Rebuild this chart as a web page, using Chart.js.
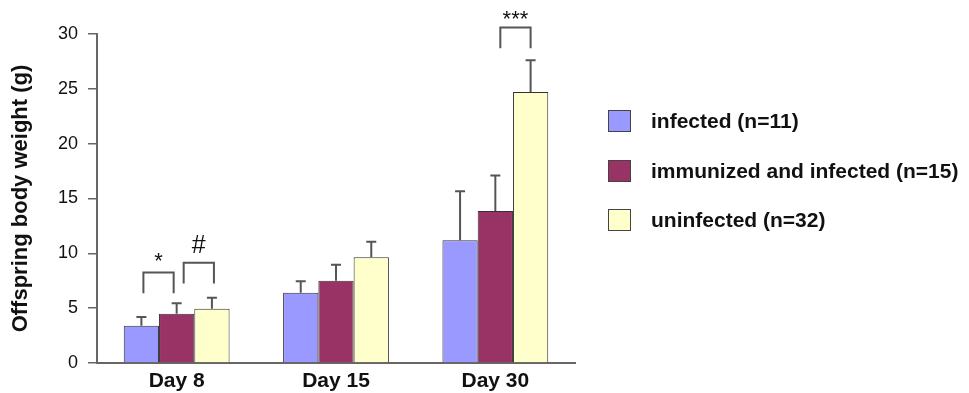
<!DOCTYPE html>
<html>
<head>
<meta charset="utf-8">
<script src="https://cdn.jsdelivr.net/npm/chart.js@4/dist/chart.umd.min.js"></script>
<style>
  html, body { margin: 0; padding: 0; background: #fff; }
  #wrap { position: relative; width: 969px; height: 393px; }
  #legend { position: absolute; left: 608px; top: 110px; font: bold 21px "Liberation Sans", Arial, sans-serif; color: #111; }
  .item { height: 49.5px; display: flex; align-items: flex-start; }
  .box { width: 21px; height: 20px; border: 1px solid #444; margin-right: 20px; }
  .item span { line-height: 21px; }
</style>
</head>
<body>
<div id="wrap">
  <canvas id="chart" width="969" height="393"></canvas>
  <div id="legend"></div>
</div>
<script>
var categories = ['Day 8', 'Day 15', 'Day 30'];
var seriesNames = ['infected (n=11)', 'immunized and infected (n=15)', 'uninfected (n=32)'];
var infected = [3.4, 6.4, 11.2];
var immunized = [4.5, 7.5, 13.85];
var uninfected = [4.95, 9.65, 24.7];
var infectedSd = [0.8, 1.05, 4.45];
var immunizedSd = [0.95, 1.45, 3.25];
var uninfectedSd = [1.0, 1.4, 2.9];
var yTicks = [0, 5, 10, 15, 20, 25, 30];
var colors = ['#9999ff', '#993366', '#ffffcc'];

// significance brackets: category, from bar, to bar, bracket top / leg bottom and label centre (data units)
var brackets = [
  { cat: 0, from: 0, to: 1, top: 8.25, bottom: 6.35, label: '*', labelY: 9.56, shiftL: 2, shiftR: -3, size: 22, drop: 10 },
  { cat: 0, from: 1, to: 2, top: 9.15, bottom: 7.25, label: '#', labelY: 10.84, shiftL: 7, shiftR: 2, size: 25, drop: 9 },
  { cat: 2, from: 1, to: 2, top: 30.6, bottom: 28.7, label: '***', labelY: 31.66, shiftL: 5, shiftR: 0, size: 22, drop: 10 }
];

var errors = [infectedSd, immunizedSd, uninfectedSd];
var FONT = '"Liberation Sans", Arial, sans-serif';

var overlay = {
  id: 'overlay',
  afterDatasetsDraw: function(chart) {
    var ctx = chart.ctx;
    var y = chart.scales.y;
    ctx.save();
    ctx.strokeStyle = '#555';
    ctx.lineWidth = 2;
    chart.data.datasets.forEach(function(ds, i) {
      var meta = chart.getDatasetMeta(i);
      meta.data.forEach(function(bar, j) {
        var top = y.getPixelForValue(ds.data[j] + errors[i][j]);
        ctx.beginPath();
        ctx.moveTo(bar.x, bar.y);
        ctx.lineTo(bar.x, top);
        ctx.moveTo(bar.x - 5, top);
        ctx.lineTo(bar.x + 5, top);
        ctx.stroke();
      });
    });
    brackets.forEach(function(b) {
      var x1 = chart.getDatasetMeta(b.from).data[b.cat].x + b.shiftL;
      var x2 = chart.getDatasetMeta(b.to).data[b.cat].x + b.shiftR;
      var yt = y.getPixelForValue(b.top);
      var yb = y.getPixelForValue(b.bottom);
      ctx.beginPath();
      ctx.moveTo(x1, yb);
      ctx.lineTo(x1, yt);
      ctx.lineTo(x2, yt);
      ctx.lineTo(x2, yb);
      ctx.stroke();
      ctx.fillStyle = '#111';
      ctx.font = b.size + 'px ' + FONT;
      ctx.textAlign = 'center';
      ctx.textBaseline = 'alphabetic';
      ctx.fillText(b.label, (x1 + x2) / 2, y.getPixelForValue(b.labelY) + b.drop);
    });
    ctx.restore();
  }
};

var ctx = document.getElementById('chart');
var chart = new Chart(ctx, {
  type: 'bar',
  data: {
    labels: categories,
    datasets: [infected, immunized, uninfected].map(function(d, i) {
      return {
        label: seriesNames[i],
        data: d,
        backgroundColor: colors[i],
        borderColor: '#333',
        borderWidth: 1,
        barPercentage: 1,
        categoryPercentage: 0.664
      };
    })
  },
  options: {
    responsive: false,
    animation: false,
    layout: { padding: { top: 34, right: 394, bottom: 0, left: 0 } },
    plugins: { legend: { display: false }, tooltip: { enabled: false } },
    scales: {
      x: {
        afterFit: function(s) { s.height = 30; },
        grid: { drawOnChartArea: false, drawTicks: false },
        border: { color: '#666', width: 2 },
        ticks: { padding: 6, color: '#111', font: { family: FONT, size: 21, weight: 'bold' } }
      },
      y: {
        min: 0,
        max: 30,
        afterBuildTicks: function(s) { s.ticks = yTicks.map(function(v) { return { value: v }; }); },
        afterFit: function(s) { s.width = 97; },
        grid: { drawOnChartArea: false, tickLength: 9, color: '#666', lineWidth: 1.5 },
        border: { color: '#666', width: 2 },
        ticks: { padding: 10, color: '#111', font: { family: FONT, size: 18 } },
        title: {
          display: true,
          text: 'Offspring body weight (g)',
          color: '#111',
          padding: { top: 8, bottom: 0 },
          font: { family: FONT, size: 22, weight: 'bold' }
        }
      }
    }
  },
  plugins: [overlay]
});

var legend = document.getElementById('legend');
chart.data.datasets.forEach(function(ds) {
  var item = document.createElement('div');
  item.className = 'item';
  var box = document.createElement('div');
  box.className = 'box';
  box.style.background = ds.backgroundColor;
  var txt = document.createElement('span');
  txt.textContent = ds.label;
  item.appendChild(box);
  item.appendChild(txt);
  legend.appendChild(item);
});
</script>
</body>
</html>
